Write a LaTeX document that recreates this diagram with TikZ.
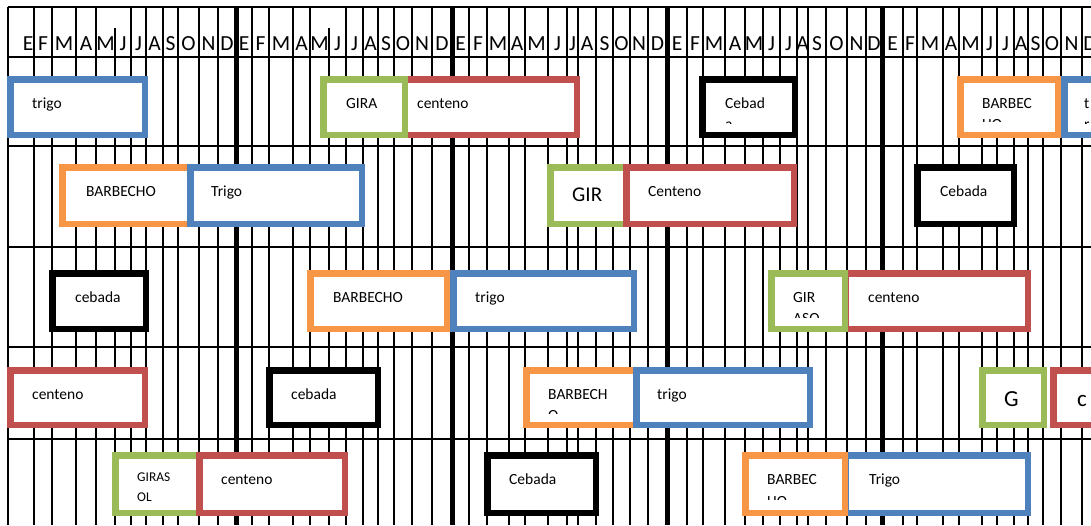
\documentclass[tikz,border=0pt]{standalone}
\usepackage{fontspec}
\setmainfont{Carlito}
\usepackage{tikz}

\definecolor{azul}{HTML}{4F81BD}
\definecolor{naranja}{HTML}{F79646}
\definecolor{verde}{HTML}{9BBB59}
\definecolor{rojo}{HTML}{C0504D}

\newcommand{\letrames}[1]{\ifcase#1 E\or F\or M\or A\or M\or J\or J\or A\or S\or O\or N\or D\fi}

\begin{document}
\begin{tikzpicture}[x=1pt, y=-1pt,
    rejilla/.style={line width=1.6pt},
    anio/.style={line width=5pt},
    mes/.style={font=\fontsize{21.5}{24}\selectfont, anchor=base, inner sep=0pt},
    etiqueta/.style={font=\fontsize{15.5}{18}\selectfont, anchor=base west, inner sep=0pt},
    grande/.style={etiqueta, font=\fontsize{23}{26}\selectfont},
    caja/.style={draw=#1, line width=6.5pt, fill=white, inner sep=0pt}]
    \useasboundingbox (0,0) rectangle (1091,525);
    \clip (0,0) rectangle (1091,525);

    % 表格线
    \foreach \y in {7,57,146,247,347,439}
        \draw[rejilla] (8,\y) -- (1091,\y);
    \foreach \x in {8,34,52,76,96,131,146,163,178,199,218,
                    252,269,293,310,346,363,378,394,412,432,
                    469,487,509,525,548,567,578,596,613,630,648,
                    687,703,725,745,763,780,797,808,826,847,866,
                    903,917,943,959,982,997,1014,1028,1043,1061,1082}
        \draw[rejilla] (\x,7) -- (\x,525);
    \foreach \x in {115,329}
        \draw[rejilla] (\x,28) -- (\x,525);

    % 年份分隔 (粗线)
    \foreach \x in {236,452,667,882}
        \draw[anio] (\x,7) -- (\x,525);

    % 月份字母
    \foreach \x [remember=\x as \ultx (initially 22), count=\i] in
        {34,52,76,96,115,131,146,163,178,199,218,236,
         252,269,293,310,329,346,363,378,394,412,432,452,
         469,487,509,525,548,567,578,596,613,630,648,667,
         687,703,725,745,763,780,797,808,826,847,866,882,
         903,917,943,959,982,997,1014,1028,1043,1061,1082,1098} {
        \pgfmathtruncatemacro{\k}{mod(\i-1,12)}
        \node[mes] (mes\i) at ({(\x+\ultx)/2},50) {\letrames{\k}};
    }

    % 第一行
    \node[caja=azul, minimum width=134.5pt, minimum height=55.5pt] (trigoA) at (77.5,107) {};
    \node[etiqueta] (trigoAtxt) at (32,108) {trigo};
    \node[caja=rojo, minimum width=172.5pt, minimum height=55.5pt] (centenoA) at (490.5,107) {};
    \node[caja=verde, minimum width=81.5pt, minimum height=55.5pt] (girasolA) at (364,107) {};
    \node[etiqueta] (girasolAtxt) at (346,108) {GIRA};
    \node[etiqueta] (centenoAtxt) at (417,108) {centeno};
    \node[caja=black, minimum width=92.5pt, minimum height=55.5pt] (cebadaA) at (748.5,107) {};
    \node[etiqueta] (cebadaAtxt) at (725,108) {Cebad};
    \begin{scope}
        \clip (702,79) rectangle (795,123.8);
        \node[etiqueta] (cebadaAresto) at (725,129.7) {a};
    \end{scope}
    \node[caja=naranja, minimum width=97.5pt, minimum height=55.5pt] (barbechoA) at (1009,107) {};
    \node[etiqueta] (barbechoAtxt) at (982,108) {BARBEC};
    \begin{scope}
        \clip (960,79) rectangle (1058,121.8);
        \node[etiqueta] (barbechoAresto) at (982,129.7) {HO};
    \end{scope}
    \node[caja=azul, minimum width=82.5pt, minimum height=55.5pt] (trigoA2) at (1105.5,107) {};
    \node[etiqueta] (trigoA2txt) at (1084,108) {t};
    \begin{scope}
        \clip (1064,79) rectangle (1091,123.8);
        \node[etiqueta] (trigoA2resto) at (1084,129.7) {r};
    \end{scope}

    % 第二行
    \node[caja=naranja, minimum width=127.5pt, minimum height=56.5pt] (barbechoB) at (126,195.5) {};
    \node[etiqueta] (barbechoBtxt) at (86,196.5) {BARBECHO};
    \node[caja=azul, minimum width=171.5pt, minimum height=56.5pt] (trigoB) at (276,195.5) {};
    \node[etiqueta] (trigoBtxt) at (211,196.5) {Trigo};
    \node[caja=verde, minimum width=75.5pt, minimum height=56.5pt] (girasolB) at (588,195.5) {};
    \node[etiqueta, font=\fontsize{21}{24}\selectfont] (girasolBtxt) at (572,201.5) {GIR};
    \node[caja=rojo, minimum width=167.5pt, minimum height=56.5pt] (centenoB) at (710,195.5) {};
    \node[etiqueta] (centenoBtxt) at (648,196.5) {Centeno};
    \node[caja=black, minimum width=96.5pt, minimum height=56.5pt] (cebadaB) at (965.5,195.5) {};
    \node[etiqueta] (cebadaBtxt) at (940,196.5) {Cebada};

    % 第三行
    \node[caja=black, minimum width=93.5pt, minimum height=55.5pt] (cebadaC) at (99,301) {};
    \node[etiqueta] (cebadaCtxt) at (75,302) {cebada};
    \node[caja=naranja, minimum width=136.5pt, minimum height=55.5pt] (barbechoC) at (378.5,301) {};
    \node[etiqueta] (barbechoCtxt) at (333,302) {BARBECHO};
    \node[caja=azul, minimum width=180.5pt, minimum height=55.5pt] (trigoC) at (543.5,301) {};
    \node[etiqueta] (trigoCtxt) at (475,302) {trigo};
    \node[caja=rojo, minimum width=182.5pt, minimum height=55.5pt] (centenoC) at (936.5,301) {};
    \node[etiqueta] (centenoCtxt) at (868,302) {centeno};
    \node[caja=verde, minimum width=73.5pt, minimum height=55.5pt] (girasolC) at (808,301) {};
    \node[etiqueta] (girasolCtxt) at (793,302) {GIR};
    \begin{scope}
        \clip (771,273) rectangle (845,317);
        \node[etiqueta] (girasolCresto) at (793,323.7) {ASO};
    \end{scope}

    % 第四行
    \node[caja=rojo, minimum width=134.5pt, minimum height=54.5pt] (centenoD) at (77.5,397.5) {};
    \node[etiqueta] (centenoDtxt) at (32,399) {centeno};
    \node[caja=black, minimum width=108.5pt, minimum height=54.5pt] (cebadaD) at (323.5,397.5) {};
    \node[etiqueta] (cebadaDtxt) at (291,399) {cebada};
    \node[caja=naranja, minimum width=109.5pt, minimum height=54.5pt] (barbechoD) at (581,397.5) {};
    \node[etiqueta] (barbechoDtxt) at (548,399) {BARBECH};
    \begin{scope}
        \clip (526,370) rectangle (630,413.5);
        \node[etiqueta] (barbechoDresto) at (548,420.7) {O};
    \end{scope}
    \node[caja=azul, minimum width=173.5pt, minimum height=54.5pt] (trigoD) at (723,397.5) {};
    \node[etiqueta] (trigoDtxt) at (657,399) {trigo};
    \node[caja=verde, minimum width=61.5pt, minimum height=54.5pt] (girasolD) at (1013,397.5) {};
    \node[grande] (girasolDtxt) at (1004,406.5) {G};
    \node[caja=rojo, minimum width=93.5pt, minimum height=54.5pt] (centenoD2) at (1100,397.5) {};
    \node[grande] (centenoD2txt) at (1077,406.5) {c};

    % 第五行
    \node[caja=verde, minimum width=84.5pt, minimum height=57.5pt] (girasolE) at (157.5,484) {};
    \node[etiqueta, font=\fontsize{13.4}{16}\selectfont] (girasolEtxt) at (137,481.8) {GIRAS};
    \node[etiqueta, font=\fontsize{13.4}{16}\selectfont] (girasolEtxt2) at (137,501.6) {OL};
    \node[caja=rojo, minimum width=145.5pt, minimum height=57.5pt] (centenoE) at (272,484) {};
    \node[etiqueta] (centenoEtxt) at (221,484.5) {centeno};
    \node[caja=black, minimum width=108.5pt, minimum height=57.5pt] (cebadaE) at (541.5,484) {};
    \node[etiqueta] (cebadaEtxt) at (509,484.5) {Cebada};
    \node[caja=azul, minimum width=182.5pt, minimum height=57.5pt] (trigoE) at (936.5,484) {};
    \node[etiqueta] (trigoEtxt) at (869,484.5) {Trigo};
    \node[caja=naranja, minimum width=99.5pt, minimum height=57.5pt] (barbechoE) at (795,484) {};
    \node[etiqueta] (barbechoEtxt) at (767,484.5) {BARBEC};
    \begin{scope}
        \clip (745,455) rectangle (845,499.5);
        \node[etiqueta] (barbechoEresto) at (767,506.2) {HO};
    \end{scope}

\end{tikzpicture}
\end{document}
